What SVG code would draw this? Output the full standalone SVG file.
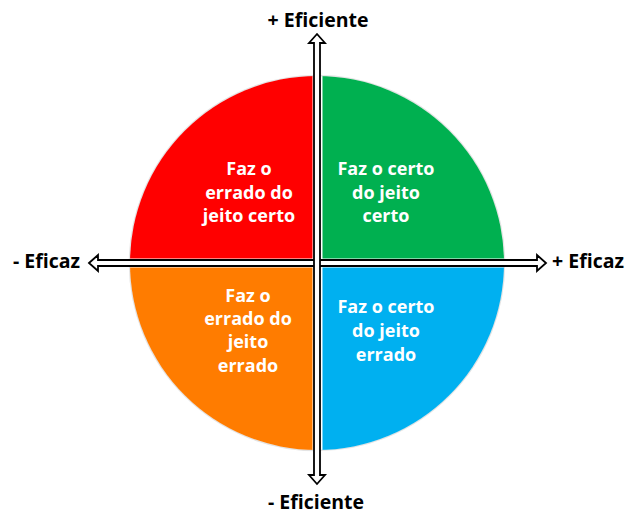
<svg xmlns="http://www.w3.org/2000/svg" width="625" height="515" viewBox="0 0 625 515">
<style>
.q{font-family:"Open Sans","Liberation Sans",sans-serif;font-weight:bold;font-size:18px;fill:#fff;text-anchor:middle}
.ax{font-family:"Open Sans","Liberation Sans",sans-serif;font-weight:bold;font-size:19.5px;fill:#000}
.arr{fill:#fff;stroke:#000;stroke-width:1.8;stroke-linejoin:miter}
</style>
<defs>
<clipPath id="circ"><circle cx="317" cy="263" r="187"/></clipPath>
</defs>
<rect width="625" height="515" fill="#fff"/>
<circle cx="317" cy="263" r="187.5" fill="none" stroke="#e4e4e4" stroke-width="1.5"/>
<g id="q-red"><rect x="129" y="75" width="183.5" height="183.5" fill="#FF0000" clip-path="url(#circ)"/>
<text class="q" x="249" y="175">Faz o</text><text class="q" x="249" y="199">errado do</text><text class="q" x="249" y="222">jeito certo</text></g>
<g id="q-green"><rect x="322.5" y="75" width="183.5" height="183.5" fill="#00B050" clip-path="url(#circ)"/>
<text class="q" x="386" y="175">Faz o certo</text><text class="q" x="386" y="199">do jeito</text><text class="q" x="386" y="222">certo</text></g>
<g id="q-orange"><rect x="129" y="267.5" width="183.5" height="184" fill="#FF7C00" clip-path="url(#circ)"/>
<text class="q" x="248" y="302">Faz o</text><text class="q" x="248" y="325">errado do</text><text class="q" x="248" y="348">jeito</text><text class="q" x="248" y="372">errado</text></g>
<g id="q-blue"><rect x="322.5" y="267.5" width="184" height="184" fill="#00B0F0" clip-path="url(#circ)"/>
<text class="q" x="386" y="313">Faz o certo</text><text class="q" x="386" y="337">do jeito</text><text class="q" x="386" y="361">errado</text></g>
<g id="connectors">
<polygon class="arr" points="89,263 98,255 98,260 537,260 537,255 546,263 537,271 537,266 98,266 98,271"/>
<polygon class="arr" points="317,34 325,43 320,43 320,475 325,475 317,484 309,475 314,475 314,43 309,43"/>
</g>
<g id="label-top"><text class="ax" x="318" y="27" text-anchor="middle">+ Eficiente</text></g>
<g id="label-bottom"><text class="ax" x="316" y="509" text-anchor="middle">- Eficiente</text></g>
<g id="label-left"><text class="ax" x="13" y="268">- Eficaz</text></g>
<g id="label-right"><text class="ax" x="552" y="268">+ Eficaz</text></g>
</svg>
